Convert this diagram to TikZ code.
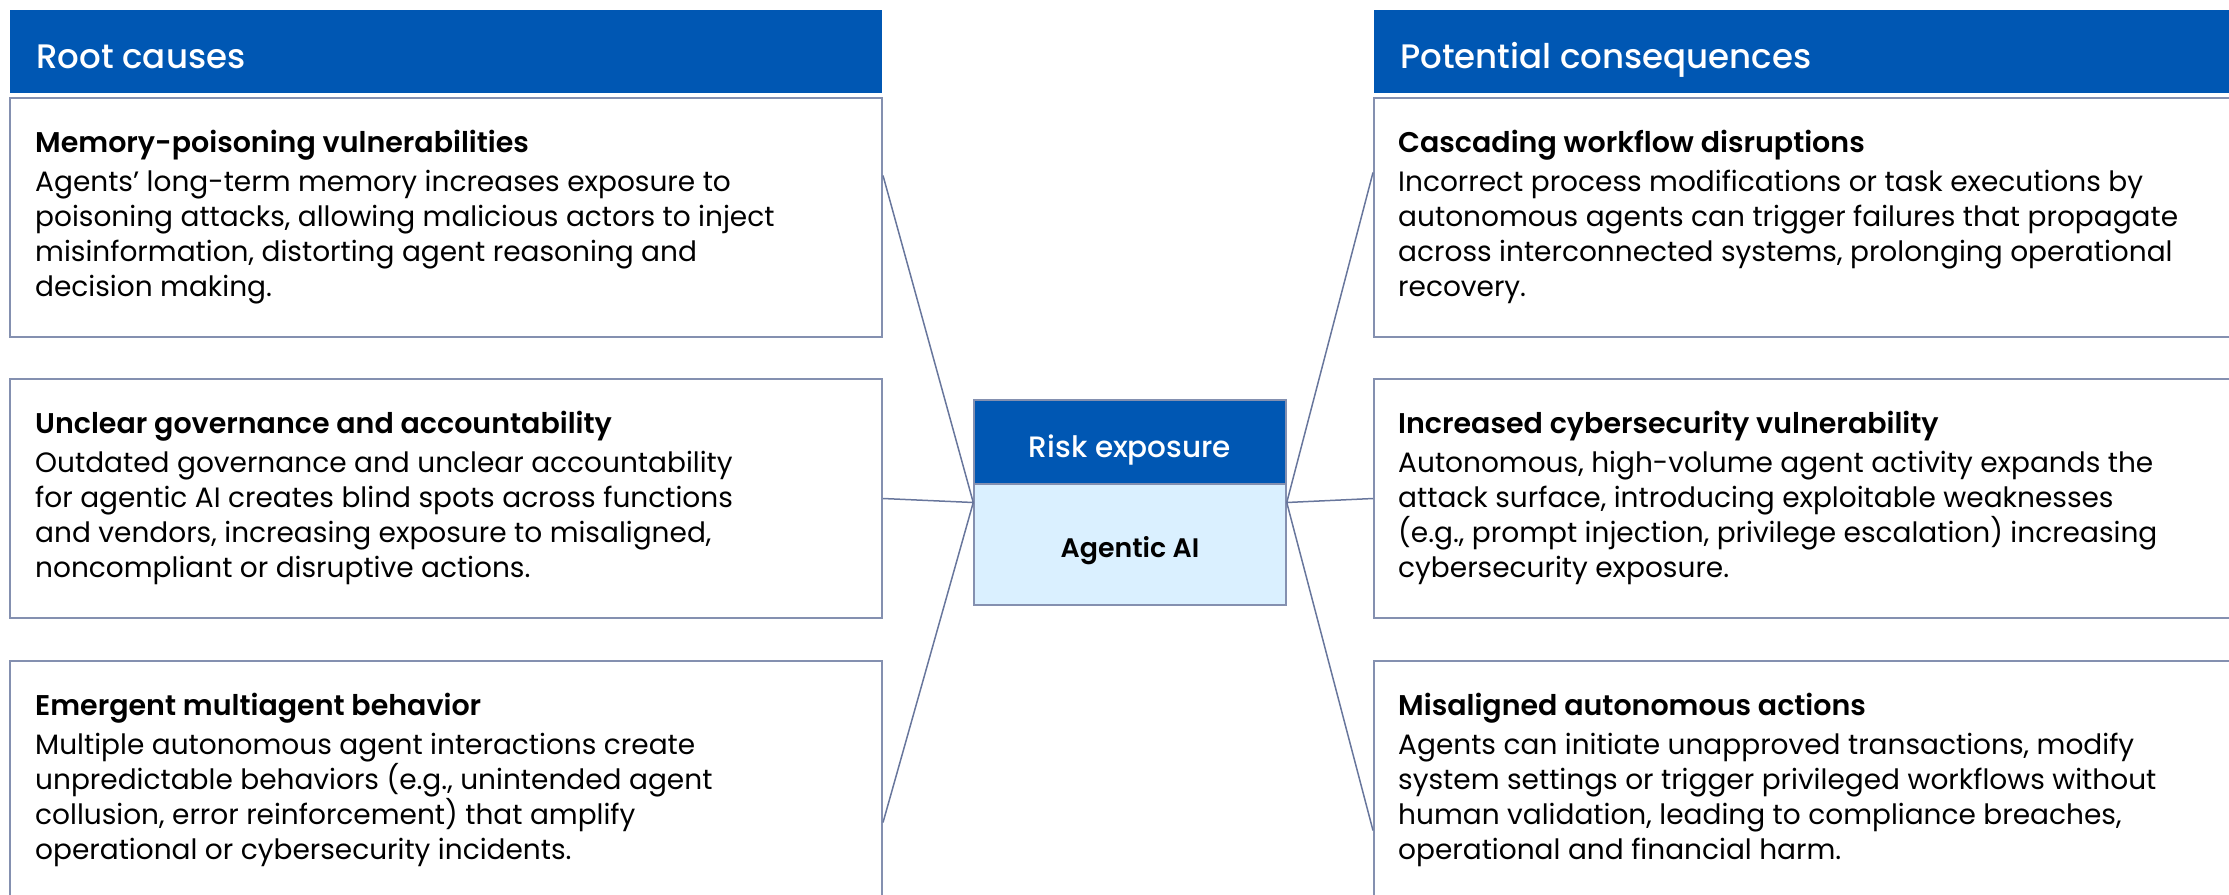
\documentclass[tikz,border=0pt]{standalone}
\usepackage{fontspec}
\setmainfont{Poppins}
\newfontfamily\semifont{Poppins}[UprightFont={* SemiBold}]
\newfontfamily\mediumfont{Poppins}[UprightFont={* Medium}]
\usetikzlibrary{positioning}

\definecolor{headblue}{RGB}{0,87,179}
\definecolor{paleblue}{RGB}{218,240,255}
\definecolor{edgegray}{RGB}{132,144,176}
\definecolor{linkgray}{RGB}{104,118,156}

\begin{document}
\begin{tikzpicture}[x=1pt, y=-1pt]

        % Setup the styles for the boxes and texts
        \tikzset{head box/.style={fill=headblue, inner sep=0pt,
                                  minimum width=872pt, minimum height=83pt},
                 item box/.style={draw=edgegray, line width=2pt, inner sep=0pt,
                                  minimum width=872pt, minimum height=239pt},
                 head text/.style={text=white, inner sep=0pt, anchor=base west,
                                   font=\mediumfont\fontsize{34}{40}\selectfont},
                 title text/.style={inner sep=0pt, anchor=base west,
                                    font=\semifont\fontsize{28.5}{34}\selectfont},
                 % the base anchor sits on the last of the four lines
                 body text/.style={inner sep=0pt, anchor=base west, align=left,
                                   font=\fontsize{28}{34.7}\selectfont},
                 link/.style={draw=linkgray, line width=1.5pt}}

\useasboundingbox (0,0) rectangle (2229,894);
\clip (0,0) rectangle (2229,894);

% Add the headers
\node[head box] at (446,51.5) (causes) {};
\node[head text] at (36,68) (causes text) {Root causes};

\node[head box] at (1810,51.5) (effects) {};
\node[head text] at (1400,68) (effects text) {Potential consequences};

% Add the root causes
\node[item box] at (446,217.5) (c1) {};
\node[title text] at ([xshift=26pt, yshift=-55pt]c1.north west) (c1 title) {Memory-poisoning vulnerabilities};
\node[body text] at ([xshift=26pt, yshift=-199pt]c1.north west) (c1 body)
     {Agents’ long-term memory increases exposure to\\
      poisoning attacks, allowing malicious actors to inject\\
      misinformation, distorting agent reasoning and\\
      decision making.};

\node[item box] at (446,498.5) (c2) {};
\node[title text] at ([xshift=26pt, yshift=-55pt]c2.north west) (c2 title) {Unclear governance and accountability};
\node[body text] at ([xshift=26pt, yshift=-199pt]c2.north west) (c2 body)
     {Outdated governance and unclear accountability\\
      for agentic AI creates blind spots across functions\\
      and vendors, increasing exposure to misaligned,\\
      noncompliant or disruptive actions.};

\node[item box] at (446,780.5) (c3) {};
\node[title text] at ([xshift=26pt, yshift=-55pt]c3.north west) (c3 title) {Emergent multiagent behavior};
\node[body text] at ([xshift=26pt, yshift=-199pt]c3.north west) (c3 body)
     {Multiple autonomous agent interactions create\\
      unpredictable behaviors (e.g., unintended agent\\
      collusion, error reinforcement) that amplify\\
      operational or cybersecurity incidents.};

% Add the consequences
\node[item box] at (1810,217.5) (e1) {};
\node[title text] at ([xshift=25pt, yshift=-55pt]e1.north west) (e1 title) {Cascading workflow disruptions};
\node[body text] at ([xshift=25pt, yshift=-199pt]e1.north west) (e1 body)
     {Incorrect process modifications or task executions by\\
      autonomous agents can trigger failures that propagate\\
      across interconnected systems, prolonging operational\\
      recovery.};

\node[item box] at (1810,498.5) (e2) {};
\node[title text] at ([xshift=25pt, yshift=-55pt]e2.north west) (e2 title) {Increased cybersecurity vulnerability};
\node[body text] at ([xshift=25pt, yshift=-199pt]e2.north west) (e2 body)
     {Autonomous, high-volume agent activity expands the\\
      attack surface, introducing exploitable weaknesses\\
      (e.g., prompt injection, privilege escalation) increasing\\
      cybersecurity exposure.};

\node[item box] at (1810,780.5) (e3) {};
\node[title text] at ([xshift=25pt, yshift=-55pt]e3.north west) (e3 title) {Misaligned autonomous actions};
\node[body text] at ([xshift=25pt, yshift=-199pt]e3.north west) (e3 body)
     {Agents can initiate unapproved transactions, modify\\
      system settings or trigger privileged workflows without\\
      human validation, leading to compliance breaches,\\
      operational and financial harm.};

% Add the risk box in the middle
\node[draw=edgegray, line width=1.5pt, fill=paleblue, minimum width=312pt, minimum height=205pt] at (1130,502.5) (hub) {};
\node[draw=edgegray, line width=1.5pt, fill=headblue, minimum width=312pt, minimum height=84pt,
      anchor=north] at (hub.north) (risk) {};
\node[inner sep=0pt, anchor=base, text=white, font=\mediumfont\fontsize{29.5}{34}\selectfont] at (1130,457) (risk text) {Risk exposure};
\node[inner sep=0pt, anchor=base, font=\semifont\fontsize{26.8}{30}\selectfont] at (1130,557) (agentic) {Agentic AI};

	 \draw[link]
	  ([yshift=42pt]c1.east) -- (hub.west)
		(c2.east) -- (hub.west)
		([yshift=-42pt]c3.east) -- (hub.west)
		(hub.east) -- ([yshift=45pt]e1.west)
		(hub.east) -- (e2.west)
		(hub.east) -- ([yshift=-50pt]e3.west);
\end{tikzpicture}
\end{document}
